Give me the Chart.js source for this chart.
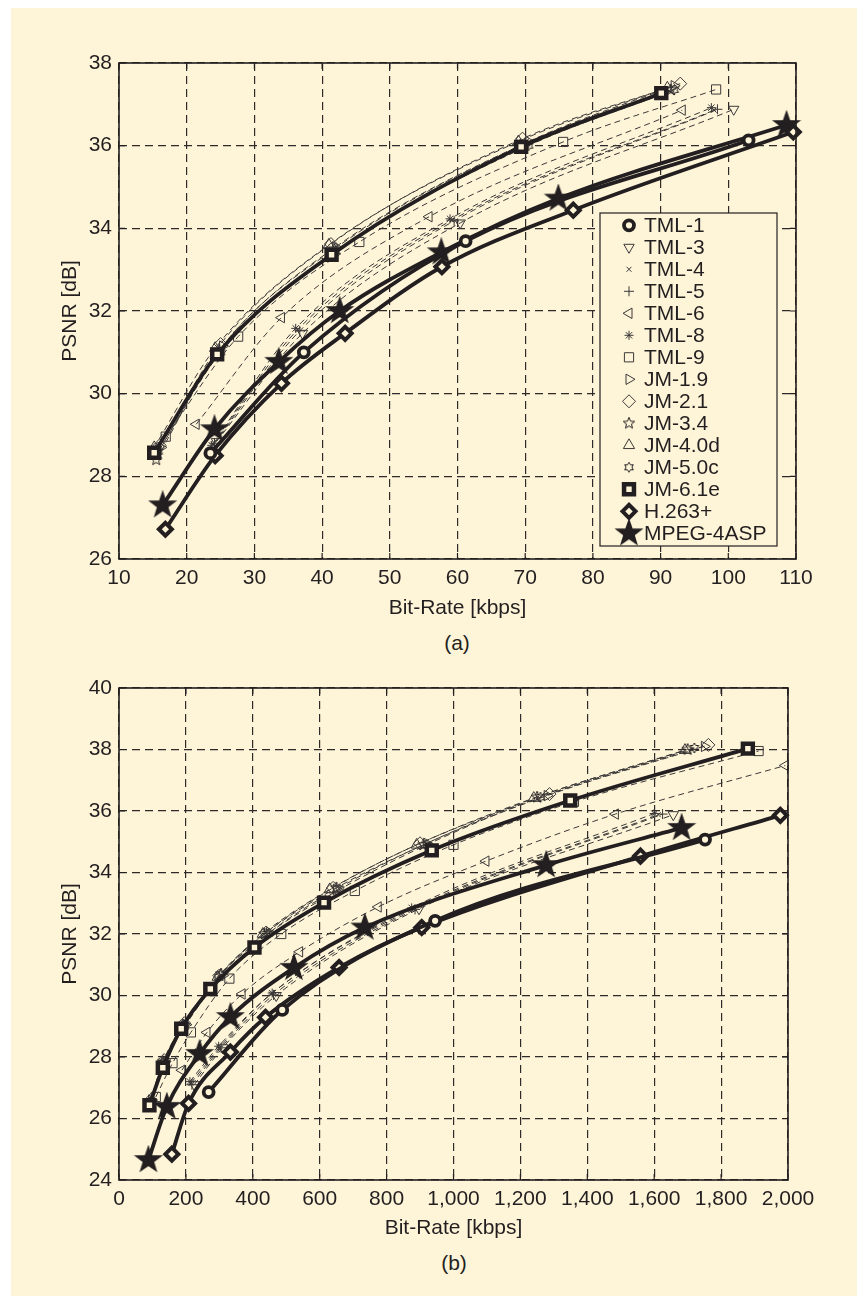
<!DOCTYPE html>
<html>
<head>
<meta charset="utf-8">
<script src="https://cdn.jsdelivr.net/npm/chart.js@4.4.1/dist/chart.umd.min.js"></script>
<style>
body { margin:0; background:#fff; width:857px; height:1296px; position:relative; overflow:hidden; font-family:"Liberation Sans", Arial, sans-serif; }
#panel { position:absolute; left:11px; top:8px; width:846px; height:1288px; background:#fef5d9; }
.box { position:absolute; left:0; width:857px; }
.cap { position:absolute; font-size:21px; color:#231f20; transform:translateX(-50%); line-height:24px; }
</style>
</head>
<body>
<div id="panel"></div>
<div class="box" style="top:0;height:622px"><canvas id="chartA" width="857" height="622"></canvas></div>
<div class="cap" style="left:457px;top:631px">(a)</div>
<div class="box" style="top:660px;height:582px"><canvas id="chartB" width="857" height="582"></canvas></div>
<div class="cap" style="left:454px;top:1251px">(b)</div>
<script>
const INK = '#231f20';
const PAPER = '#fef5d9';
const FONT = '"Liberation Sans", Arial, sans-serif';

const seriesNames = ['TML-1', 'TML-3', 'TML-4', 'TML-5', 'TML-6', 'TML-8', 'TML-9', 'JM-1.9',
  'JM-2.1', 'JM-3.4', 'JM-4.0d', 'JM-5.0c', 'JM-6.1e', 'H.263+', 'MPEG-4ASP'];

// (a) rate [kbps], PSNR [dB]
const rateTicksA = [10, 20, 30, 40, 50, 60, 70, 80, 90, 100, 110];
const psnrTicksA = [26, 28, 30, 32, 34, 36, 38];
const a_TML1 = [[23.5, 28.56], [37.3, 31.0], [61.2, 33.69], [103, 36.13]];
const a_TML3 = [[24.4, 28.84], [37.1, 31.46], [60.4, 34.13], [100.8, 36.88]];
const a_TML4 = [[23.9, 28.78], [36.4, 31.55], [59.2, 34.2], [97.9, 36.86]];
const a_TML5 = [[24.1, 28.8], [36.7, 31.52], [59.5, 34.18], [98.4, 36.88]];
const a_TML6 = [[21.4, 29.26], [34.0, 31.84], [55.8, 34.28], [93.2, 36.86]];
const a_TML8 = [[23.7, 28.75], [36.1, 31.58], [58.9, 34.23], [97.5, 36.92]];
const a_TML9 = [[16.9, 28.96], [27.6, 31.38], [45.5, 33.67], [75.6, 36.09], [98.2, 37.36]];
const a_JM19 = [[16.2, 28.7], [25.3, 31.15], [42.0, 33.55], [70.5, 36.1], [92.0, 37.45]];
const a_JM21 = [[16.0, 28.75], [25.0, 31.2], [41.3, 33.62], [69.6, 36.17], [92.9, 37.5]];
const a_JM34 = [[15.5, 28.4], [24.8, 31.05], [41.8, 33.5], [70.0, 36.05], [91.5, 37.35]];
const a_JM40 = [[15.2, 28.7], [24.2, 31.1], [41.0, 33.6], [69.0, 36.1], [91.0, 37.4]];
const a_JM50 = [[15.8, 28.6], [25.0, 31.0], [42.0, 33.45], [70.5, 36.0], [92.0, 37.35]];
const a_JM61 = [[15.2, 28.57], [24.5, 30.95], [41.4, 33.36], [69.4, 35.97], [90.1, 37.27]];
const a_H263 = [[16.85, 26.72], [24.2, 28.5], [34.0, 30.25], [43.4, 31.46], [57.7, 33.07], [77.1, 34.44], [109.6, 36.33]];
const a_MPEG = [[16.45, 27.3], [24.1, 29.14], [33.6, 30.77], [42.6, 32.0], [57.6, 33.42], [74.9, 34.72], [108.6, 36.5]];

// (b) rate [kbps], PSNR [dB]
const rateTicksB = [0, 200, 400, 600, 800, 1000, 1200, 1400, 1600, 1800, 2000];
const psnrTicksB = [24, 26, 28, 30, 32, 34, 36, 38, 40];
const b_TML1 = [[268, 26.86], [488, 29.53], [945, 32.43], [1752, 35.07]];
const b_TML3 = [[225, 27.1], [310, 28.3], [470, 30.0], [897, 32.82], [1657, 35.88]];
const b_TML4 = [[215, 27.15], [300, 28.3], [455, 30.05], [880, 32.82], [1612, 35.88]];
const b_TML5 = [[218, 27.1], [305, 28.3], [462, 30.02], [885, 32.8], [1625, 35.9]];
const b_TML6 = [[188, 27.57], [263, 28.8], [368, 30.05], [540, 31.42], [775, 32.88], [1097, 34.37], [1484, 35.9], [1992, 37.48]];
const b_TML8 = [[212, 27.2], [298, 28.35], [458, 30.08], [875, 32.85], [1600, 35.92]];
const b_TML9 = [[110, 26.7], [160, 27.8], [215, 28.8], [330, 30.55], [485, 32.0], [705, 33.4], [1000, 34.9], [1360, 36.3], [1912, 37.95]];
const b_JM19 = [[97, 26.6], [138, 27.85], [200, 29.05], [310, 30.65], [450, 32.05], [650, 33.45], [920, 34.95], [1280, 36.5], [1750, 38.1]];
const b_JM21 = [[95, 26.6], [135, 27.9], [195, 29.1], [300, 30.65], [440, 32.05], [640, 33.5], [900, 34.95], [1287, 36.55], [1762, 38.15]];
const b_JM34 = [[93, 26.5], [132, 27.85], [192, 29.05], [305, 30.7], [435, 32.0], [650, 33.5], [910, 34.9], [1250, 36.45], [1700, 38.0]];
const b_JM40 = [[92, 26.5], [130, 27.8], [190, 29.0], [295, 30.6], [430, 32.0], [630, 33.45], [890, 34.9], [1240, 36.42], [1692, 37.98]];
const b_JM50 = [[95, 26.55], [133, 27.8], [195, 29.0], [298, 30.6], [445, 32.0], [660, 33.45], [920, 34.9], [1260, 36.45], [1720, 38.05]];
const b_JM61 = [[91, 26.43], [131, 27.65], [186, 28.92], [273, 30.21], [405, 31.56], [613, 33.02], [935, 34.72], [1349, 36.34], [1880, 38.03]];
const b_H263 = [[158, 24.84], [208, 26.49], [333, 28.16], [438, 29.29], [658, 30.91], [905, 32.21], [1559, 34.53], [1977, 35.86]];
const b_MPEG = [[88, 24.65], [143, 26.38], [241, 28.1], [333, 29.3], [523, 30.9], [735, 32.21], [1277, 34.24], [1682, 35.45]];

const seriesA = [a_TML1, a_TML3, a_TML4, a_TML5, a_TML6, a_TML8, a_TML9, a_JM19, a_JM21, a_JM34, a_JM40, a_JM50, a_JM61, a_H263, a_MPEG];
const seriesB = [b_TML1, b_TML3, b_TML4, b_TML5, b_TML6, b_TML8, b_TML9, b_JM19, b_JM21, b_JM34, b_JM40, b_JM50, b_JM61, b_H263, b_MPEG];

// marker images for the star shapes
function starImage(points, rOut, rIn, filled, lw) {
  const c = document.createElement('canvas');
  const s = Math.ceil(2 * rOut + 4);
  c.width = s; c.height = s;
  const g = c.getContext('2d');
  g.beginPath();
  for (let i = 0; i < points * 2; i++) {
    const r = i % 2 ? rIn : rOut;
    const a = -Math.PI / 2 + i * Math.PI / points;
    const x = s / 2 + r * Math.cos(a), y = s / 2 + r * Math.sin(a);
    if (i) g.lineTo(x, y); else g.moveTo(x, y);
  }
  g.closePath();
  if (filled) { g.fillStyle = INK; g.fill(); }
  g.strokeStyle = INK; g.lineWidth = lw; g.lineJoin = 'miter'; g.stroke();
  return c;
}
const bigStar = starImage(5, 13, 5.2, true, 1.5);
const penta = starImage(5, 6, 2.6, false, 1);
const hexa = starImage(6, 5, 2.9, false, 1);

const thin = (pointStyle, extra) => Object.assign({
  pointStyle, borderWidth: 1, borderColor: '#3b3838', pointBorderColor: '#3b3838', borderDash: [6, 4],
  pointRadius: 5, pointBorderWidth: 1, pointBackgroundColor: 'rgba(0,0,0,0)', order: 1
}, extra);
const bold = (pointStyle, extra) => Object.assign({
  pointStyle, borderWidth: 3.8, borderColor: INK, pointBorderColor: INK, borderDash: [],
  pointRadius: 5, pointBorderWidth: 3.8, pointBackgroundColor: PAPER, order: 0
}, extra);

const styles = [
  bold('circle', { pointRadius: 5 }),
  thin('triangle', { pointRotation: 180, pointRadius: 6 }),
  thin('crossRot', { pointRadius: 3.5 }),
  thin('cross', { pointRadius: 5 }),
  thin('triangle', { pointRotation: 270, pointRadius: 6 }),
  thin('star', { pointRadius: 4.5 }),
  thin('rect', { pointRadius: 6.5 }),
  thin('triangle', { pointRotation: 90, pointRadius: 6 }),
  thin('rectRot', { pointRadius: 6.5 }),
  thin(penta, { pointRadius: 6 }),
  thin('triangle', { pointRadius: 6.5 }),
  thin(hexa, { pointRadius: 5 }),
  bold('rect', { pointRadius: 7, pointBorderWidth: 4.5 }),
  bold('rectRot', { pointRadius: 6.5, pointBorderWidth: 4 }),
  bold(bigStar, { pointRadius: 12 })
];

function makeDatasets(series) {
  return series.map((pts, i) => Object.assign({
    label: seriesNames[i],
    data: pts.map(p => ({ x: p[0], y: p[1] })),
    cubicInterpolationMode: 'monotone',
    fill: false,
    clip: 10
  }, styles[i]));
}

// box round the plot with short inward ticks on all four sides
const frame = {
  id: 'frame',
  afterDatasetsDraw(chart) {
    const { ctx, chartArea: a, scales } = chart;
    const t = 6;
    ctx.save();
    ctx.strokeStyle = INK; ctx.lineWidth = 1.6; ctx.setLineDash([]);
    ctx.strokeRect(a.left, a.top, a.right - a.left, a.bottom - a.top);
    ctx.lineWidth = 1.2;
    ctx.beginPath();
    scales.x.ticks.forEach(tk => {
      const px = scales.x.getPixelForValue(tk.value);
      ctx.moveTo(px, a.bottom); ctx.lineTo(px, a.bottom - t);
      ctx.moveTo(px, a.top); ctx.lineTo(px, a.top + t);
    });
    scales.y.ticks.forEach(tk => {
      const py = scales.y.getPixelForValue(tk.value);
      ctx.moveTo(a.left, py); ctx.lineTo(a.left + t, py);
      ctx.moveTo(a.right, py); ctx.lineTo(a.right - t, py);
    });
    ctx.stroke();
    ctx.restore();
  }
};

const boxLegend = {
  id: 'boxLegend',
  afterDraw(chart, args, opts) {
    if (!opts.show) return;
    const { ctx } = chart;
    const x0 = 600, y0 = 213, x1 = 777, y1 = 546, row = 22.0, first = 225.3;
    ctx.save();
    ctx.fillStyle = PAPER; ctx.fillRect(x0, y0, x1 - x0, y1 - y0);
    ctx.strokeStyle = INK; ctx.lineWidth = 1.2; ctx.setLineDash([]);
    ctx.strokeRect(x0, y0, x1 - x0, y1 - y0);
    ctx.font = '21px ' + FONT; ctx.textBaseline = 'middle'; ctx.textAlign = 'left';
    chart.data.datasets.forEach((ds, i) => {
      const y = first + i * row;
      ctx.strokeStyle = ds.pointBorderColor; ctx.fillStyle = ds.pointBackgroundColor;
      ctx.lineWidth = ds.pointBorderWidth;
      if (Chart.helpers && Chart.helpers.drawPoint) {
        Chart.helpers.drawPoint(ctx, { pointStyle: ds.pointStyle, rotation: ds.pointRotation || 0,
          radius: ds.pointRadius, borderWidth: ds.pointBorderWidth }, 629, y);
      }
      ctx.fillStyle = INK;
      ctx.fillText(ds.label, 644, y + 1);
    });
    ctx.restore();
  }
};

function makeChart(id, series, rateTicks, psnrTicks, pad, xAxisH, showLegend) {
  return new Chart(document.getElementById(id), {
    type: 'line',
    data: { datasets: makeDatasets(series) },
    plugins: [frame, boxLegend],
    options: {
      responsive: false,
      animation: false,
      layout: { padding: pad },
      plugins: { legend: { display: false }, tooltip: { enabled: false }, boxLegend: { show: showLegend } },
      scales: {
        x: {
          type: 'linear',
          min: rateTicks[0], max: rateTicks[rateTicks.length - 1],
          afterBuildTicks: s => { s.ticks = rateTicks.map(v => ({ value: v })); },
          afterFit: s => { s.height = xAxisH; },
          grid: { color: '#2e2a2a', lineWidth: 1.2, drawTicks: false },
          border: { display: false, dash: [8, 5] },
          ticks: { color: INK, padding: 7, font: { family: FONT, size: 21 }, maxRotation: 0,
            callback: v => v.toLocaleString('en-US') },
          title: { display: true, text: 'Bit-Rate [kbps]', color: INK, font: { family: FONT, size: 21 },
            padding: { top: 0, bottom: 1 } }
        },
        y: {
          type: 'linear',
          min: psnrTicks[0], max: psnrTicks[psnrTicks.length - 1],
          afterBuildTicks: s => { s.ticks = psnrTicks.map(v => ({ value: v })); },
          afterFit: s => { s.width = 119; },
          grid: { color: '#2e2a2a', lineWidth: 1.2, drawTicks: false },
          border: { display: false, dash: [8, 5] },
          ticks: { color: INK, padding: 7, font: { family: FONT, size: 21 } },
          title: { display: true, text: 'PSNR [dB]', color: INK, font: { family: FONT, size: 21 },
            padding: { top: 58, bottom: 0 } }
        }
      }
    }
  });
}

makeChart('chartA', seriesA, rateTicksA, psnrTicksA, { left: 0, right: 61, top: 63, bottom: 0 }, 63, true);
makeChart('chartB', seriesB, rateTicksB, psnrTicksB, { left: 0, right: 69, top: 28, bottom: 0 }, 62, false);
</script>
</body>
</html>
